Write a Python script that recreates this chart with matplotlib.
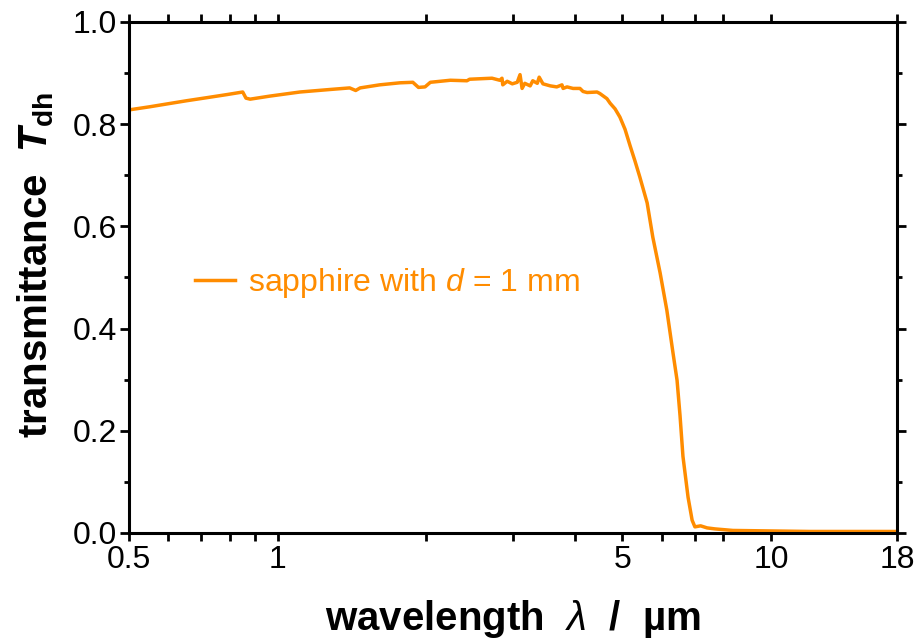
import matplotlib
matplotlib.use("Agg")
import matplotlib.pyplot as plt
import matplotlib.ticker as mticker
import numpy as np

plt.rcParams['font.family'] = ['Liberation Sans', 'DejaVu Sans']
plt.rcParams['mathtext.fontset'] = 'custom'
plt.rcParams['mathtext.rm'] = 'Liberation Sans'
plt.rcParams['mathtext.it'] = 'Liberation Sans:italic'
plt.rcParams['mathtext.bf'] = 'Liberation Sans:bold'
plt.rcParams['mathtext.bfit'] = 'Liberation Sans:bold:italic'

# transmittance of sapphire (d = 1 mm)
wavelength = [0.50, 0.55, 0.60, 0.655, 0.72, 0.79, 0.85, 0.863, 0.88, 0.965,
              1.11, 1.28, 1.40, 1.44, 1.47, 1.61, 1.77, 1.88, 1.93, 1.99,
              2.04, 2.24, 2.42, 2.45, 2.72, 2.82, 2.85, 2.86, 2.92, 2.99,
              3.06, 3.10, 3.13, 3.17, 3.25, 3.29, 3.36, 3.39, 3.45, 3.57,
              3.68, 3.77, 3.79, 3.86, 3.97, 4.10, 4.16, 4.24, 4.44, 4.50,
              4.65, 4.72, 4.83, 4.94, 5.06, 5.18, 5.30, 5.42, 5.61, 5.76,
              5.96, 6.15, 6.33, 6.45, 6.54, 6.63, 6.79, 6.92, 7.01, 7.20,
              7.42, 7.70, 8.37, 10.0, 12.0, 15.0, 18.0]
transmittance = [0.828, 0.834, 0.840, 0.846, 0.852, 0.858, 0.863, 0.851, 0.849, 0.855,
                 0.863, 0.868, 0.871, 0.866, 0.871, 0.877, 0.881, 0.882, 0.872, 0.873,
                 0.882, 0.886, 0.885, 0.888, 0.890, 0.886, 0.890, 0.877, 0.884, 0.879,
                 0.882, 0.897, 0.870, 0.880, 0.875, 0.885, 0.880, 0.892, 0.879, 0.875,
                 0.873, 0.877, 0.870, 0.873, 0.870, 0.870, 0.864, 0.862, 0.863, 0.860,
                 0.850, 0.841, 0.830, 0.814, 0.790, 0.758, 0.728, 0.697, 0.646, 0.579,
                 0.509, 0.436, 0.352, 0.299, 0.230, 0.150, 0.070, 0.025, 0.012, 0.014,
                 0.010, 0.008, 0.005, 0.004, 0.003, 0.003, 0.003]

x_major = [0.5, 1, 5, 10, 18]
x_minor = [0.6, 0.7, 0.8, 0.9, 2, 3, 4, 6, 7, 8]

fig = plt.figure(figsize=(9.17, 6.40), dpi=100)
ax = fig.add_axes([129 / 917, 1 - 533 / 640, 768 / 917, 511 / 640])

orange = '#ff8c00'
ax.plot(wavelength, transmittance, color=orange, lw=2.5,
        label=r'sapphire with $\mathit{d}$ = 1 mm')

ax.set_xscale('log')
ax.set_xlim(0.5, 18)
ax.set_ylim(0, 1.0)
ax.xaxis.set_major_locator(mticker.FixedLocator(x_major))
ax.xaxis.set_major_formatter(mticker.FixedFormatter([str(v) for v in x_major]))
ax.xaxis.set_minor_locator(mticker.FixedLocator(x_minor))
ax.xaxis.set_minor_formatter(mticker.NullFormatter())
ax.yaxis.set_major_locator(mticker.MultipleLocator(0.2))
ax.yaxis.set_minor_locator(mticker.MultipleLocator(0.1))
ax.yaxis.set_major_formatter(mticker.FormatStrFormatter('%.1f'))

for s in ax.spines.values():
    s.set_linewidth(2.2)
ax.tick_params(axis='x', which='both', direction='out', top=True, length=5.5,
               width=2, labelsize=23, pad=3)
ax.tick_params(axis='y', which='major', direction='out', right=True, length=6.5,
               width=2, labelsize=23, pad=2)
ax.tick_params(axis='y', which='minor', direction='out', right=True, length=3.5, width=2)

ax.set_xlabel(r'wavelength  $\mathit{\lambda}$  /  µm', fontsize=29, fontweight='bold', labelpad=17)
ax.set_ylabel(r'transmittance  $\mathbfit{T}_{\mathbf{dh}}$', fontsize=29, fontweight='bold', labelpad=12)
ax.yaxis.label.set_y(0.525)

ax.legend(loc='center left', bbox_to_anchor=(0.057, 0.489), frameon=False,
          fontsize=23, labelcolor='linecolor', handlelength=1.25, handletextpad=0.4,
          borderpad=0.2)

fig.savefig('out.png', dpi=100)
